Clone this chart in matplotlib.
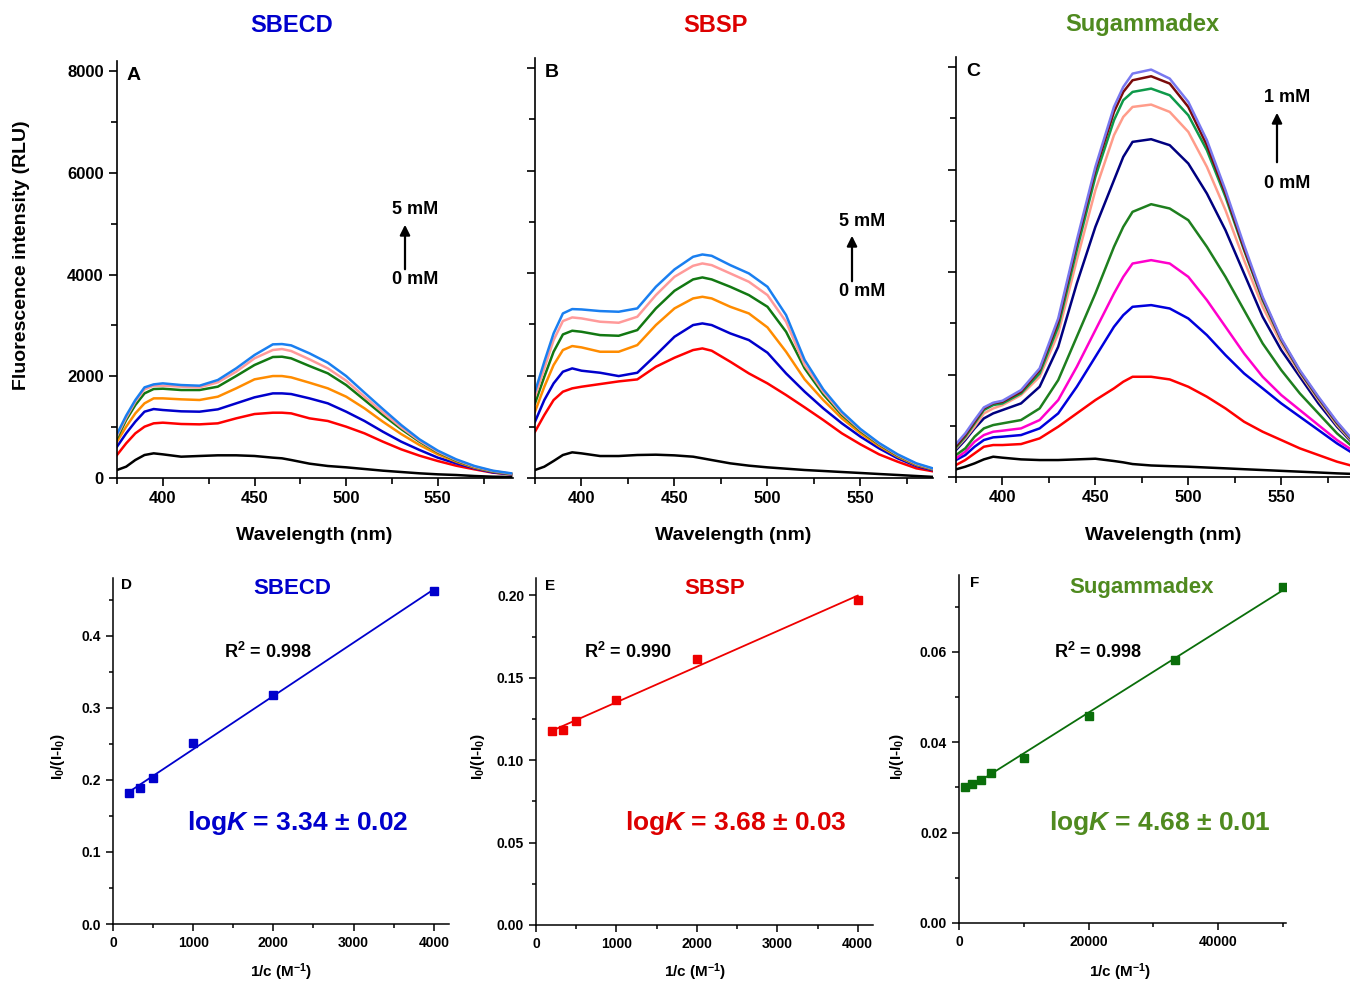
import numpy as np
import matplotlib
matplotlib.use("Agg")
import matplotlib.pyplot as plt
from matplotlib.ticker import MultipleLocator, FormatStrFormatter

plt.rcParams['font.family'] = ['Liberation Sans', 'DejaVu Sans']
plt.rcParams['font.weight'] = 'bold'
plt.rcParams['mathtext.fontset'] = 'custom'
plt.rcParams['mathtext.rm'] = 'Liberation Sans:bold'
plt.rcParams['mathtext.it'] = 'Liberation Sans:bold:italic'
plt.rcParams['mathtext.bf'] = 'Liberation Sans:bold'

# ---------------- data ----------------
WL = [375, 380, 385, 390, 395, 400, 410, 420, 430, 440, 450, 460, 465, 470,
      480, 490, 500, 510, 520, 530, 540, 550, 560, 570, 580, 590]

A_black = [157, 223, 354, 452, 485, 465, 419, 433, 446, 446, 433, 400, 387, 354, 282, 236, 210, 177, 144, 118, 92, 72, 59, 39, 26, 20]
A_red = [452, 682, 878, 1009, 1075, 1088, 1062, 1055, 1075, 1173, 1258, 1284, 1284, 1271, 1173, 1121, 1009, 878, 715, 564, 439, 334, 242, 170, 105, 72]
A_blue = [616, 878, 1108, 1304, 1356, 1337, 1311, 1304, 1350, 1468, 1586, 1664, 1664, 1651, 1566, 1468, 1304, 1121, 911, 715, 551, 400, 288, 190, 111, 72]
A_orange = [714, 1009, 1271, 1468, 1566, 1566, 1547, 1534, 1599, 1763, 1940, 2005, 2005, 1979, 1874, 1763, 1599, 1370, 1108, 865, 649, 465, 321, 203, 125, 79]
A_green = [780, 1140, 1435, 1664, 1750, 1756, 1730, 1730, 1796, 2005, 2222, 2379, 2385, 2353, 2202, 2058, 1828, 1534, 1239, 963, 714, 505, 341, 216, 131, 79]
A_pink = [826, 1186, 1501, 1743, 1815, 1815, 1796, 1782, 1881, 2090, 2353, 2517, 2536, 2497, 2333, 2156, 1914, 1599, 1291, 996, 734, 518, 354, 223, 138, 85]
A_lblue = [865, 1226, 1533, 1782, 1841, 1861, 1828, 1815, 1927, 2156, 2418, 2628, 2634, 2608, 2451, 2267, 2005, 1678, 1356, 1042, 760, 538, 367, 236, 144, 92]

B_black = [156, 221, 332, 449, 501, 481, 429, 429, 449, 455, 442, 416, 384, 351, 286, 241, 208, 182, 156, 137, 117, 98, 78, 59, 39, 20]
B_red = [904, 1229, 1522, 1685, 1750, 1782, 1834, 1886, 1925, 2172, 2348, 2498, 2530, 2485, 2270, 2042, 1847, 1620, 1379, 1132, 872, 657, 462, 318, 189, 124]
B_blue = [1099, 1522, 1847, 2075, 2140, 2095, 2055, 1990, 2055, 2400, 2758, 2986, 3018, 2986, 2823, 2693, 2446, 2042, 1685, 1360, 1067, 807, 579, 384, 234, 143]
B_orange = [1294, 1782, 2205, 2498, 2576, 2550, 2465, 2465, 2595, 2986, 3311, 3506, 3538, 3506, 3343, 3213, 2940, 2465, 1925, 1522, 1164, 872, 625, 417, 254, 156]
B_green = [1457, 1977, 2465, 2803, 2875, 2855, 2790, 2777, 2888, 3311, 3655, 3877, 3916, 3877, 3733, 3571, 3343, 2855, 2140, 1633, 1230, 917, 657, 436, 267, 163]
B_pink = [1587, 2140, 2693, 3064, 3135, 3116, 3051, 3031, 3148, 3571, 3929, 4143, 4189, 4156, 3994, 3831, 3571, 3051, 2205, 1685, 1262, 937, 670, 449, 274, 169]
B_lblue = [1685, 2270, 2823, 3213, 3298, 3291, 3259, 3246, 3311, 3733, 4072, 4319, 4364, 4338, 4156, 3994, 3733, 3181, 2303, 1730, 1294, 956, 683, 462, 287, 176]

C_black = [149, 201, 266, 344, 396, 377, 344, 331, 331, 344, 357, 312, 286, 253, 225, 212, 201, 185, 169, 152, 136, 120, 104, 88, 71, 58]
C_red = [234, 331, 461, 591, 624, 624, 643, 754, 982, 1242, 1502, 1730, 1860, 1957, 1957, 1905, 1762, 1567, 1339, 1079, 884, 722, 559, 429, 299, 200]
C_blue = [331, 429, 591, 722, 774, 787, 819, 949, 1242, 1762, 2347, 2933, 3160, 3323, 3356, 3290, 3095, 2770, 2380, 2022, 1730, 1437, 1177, 917, 656, 430]
C_magenta = [364, 494, 689, 819, 884, 904, 949, 1112, 1502, 2152, 2868, 3583, 3908, 4168, 4234, 4168, 3908, 3453, 2933, 2412, 1957, 1600, 1307, 1014, 722, 480]
C_green = [429, 559, 787, 949, 1014, 1047, 1112, 1339, 1892, 2738, 3583, 4494, 4884, 5177, 5326, 5242, 5014, 4494, 3908, 3258, 2608, 2087, 1632, 1242, 852, 540]
C_navy = [526, 722, 949, 1144, 1242, 1307, 1437, 1762, 2543, 3778, 4884, 5795, 6250, 6543, 6595, 6478, 6120, 5534, 4819, 3973, 3128, 2478, 1957, 1437, 982, 600]
C_salmon = [559, 754, 982, 1242, 1339, 1404, 1600, 1957, 2803, 4234, 5600, 6673, 7030, 7225, 7271, 7128, 6738, 6055, 5209, 4234, 3323, 2608, 2022, 1502, 1014, 620]
C_green2 = [579, 787, 1047, 1307, 1404, 1437, 1632, 2022, 2933, 4429, 5860, 6966, 7356, 7518, 7583, 7453, 7063, 6380, 5469, 4429, 3453, 2673, 2055, 1535, 1047, 640]
C_maroon = [605, 819, 1079, 1339, 1437, 1470, 1665, 2087, 3030, 4559, 5990, 7128, 7518, 7746, 7824, 7681, 7225, 6478, 5534, 4461, 3486, 2686, 2068, 1548, 1060, 650]
C_top = [644, 852, 1112, 1359, 1450, 1489, 1697, 2120, 3095, 4624, 6055, 7226, 7616, 7876, 7954, 7778, 7323, 6575, 5599, 4526, 3518, 2705, 2087, 1567, 1079, 660]

D_x = [200, 333, 500, 1000, 2000, 4000]
D_y = [0.182, 0.189, 0.203, 0.251, 0.318, 0.462]
E_x = [200, 333, 500, 1000, 2000, 4000]
E_y = [0.1174, 0.118, 0.124, 0.1362, 0.1616, 0.1974]
F_x = [1000, 2000, 3333, 5000, 10000, 20000, 33333, 50000]
F_y = [0.0302, 0.0307, 0.0317, 0.0332, 0.0366, 0.0457, 0.0581, 0.0744]

titles = ["SBECD", "SBSP", "Sugammadex"]
title_colors = ["#0000CC", "#DD0000", "#4F8A1F"]
r2_labels = ["R$^2$ = 0.998", "R$^2$ = 0.990", "R$^2$ = 0.998"]
logk_labels = ["log$K$ = 3.34 \u00b1 0.02", "log$K$ = 3.68 \u00b1 0.03", "log$K$ = 4.68 \u00b1 0.01"]
arrow_top = ["5 mM", "5 mM", "1 mM"]

W, H = 1350, 985
fig = plt.figure(figsize=(W / 100, H / 100), dpi=100)


def rect(l, t, r, b):
    return [l / W, 1 - b / H, (r - l) / W, (b - t) / H]


def P(x, y):
    return (x / W, 1 - y / H)


top_specs = [
    (rect(117, 61, 513, 478), (375, 591),
     [A_black, A_red, A_blue, A_orange, A_green, A_pink, A_lblue],
     ["black", "#FF0000", "#0000CC", "#FF8C00", "#127812", "#FF9A9A", "#1A7FF0"], "A"),
    (rect(535, 58, 933, 478), (375, 589),
     [B_black, B_red, B_blue, B_orange, B_green, B_pink, B_lblue],
     ["black", "#FF0000", "#0000CC", "#FF8C00", "#127812", "#FF9A9A", "#1A7FF0"], "B"),
    (rect(956, 57, 1350, 477), (375, 587),
     [C_black, C_red, C_blue, C_magenta, C_green, C_navy, C_salmon, C_green2, C_maroon, C_top],
     ["black", "#FF0000", "#0000DD", "#FF00CC", "#1E7F1E", "#000080", "#FF9C8A", "#0E9A4A", "#7A0A0A", "#7878F0"], "C"),
]

for spec in top_specs:
    r, xl, curves, cols, letter = spec
    ax = fig.add_axes(r)
    for yv, c in zip(curves, cols):
        ax.plot(WL, yv, color=c, lw=1.8)
    ax.set_xlim(*xl)
    ax.set_ylim(0, 8200)
    ax.spines['top'].set_visible(False)
    ax.spines['right'].set_visible(False)
    ax.spines['left'].set_linewidth(1.2)
    ax.spines['bottom'].set_linewidth(1.2)
    ax.xaxis.set_major_locator(MultipleLocator(50))
    ax.xaxis.set_minor_locator(MultipleLocator(25))
    ax.yaxis.set_major_locator(MultipleLocator(2000))
    ax.yaxis.set_minor_locator(MultipleLocator(1000))
    ax.tick_params(which='major', direction='out', length=6, width=1.2, labelsize=12)
    ax.tick_params(which='minor', direction='out', length=4, width=1.2)
    if letter != "A":
        ax.set_yticklabels([])
    ax.text(0.025, 0.985, letter, transform=ax.transAxes, fontsize=14,
            fontweight='bold', va='top', ha='left')

# top titles and labels
for (x, t, c) in zip([292, 715, 1142], titles, title_colors):
    fig.text(*P(x, 25), t, color=c, fontsize=17, fontweight='bold', ha='center', va='center')
for x in [314, 733, 1163]:
    fig.text(*P(x, 536), "Wavelength (nm)", fontsize=14, fontweight='bold', ha='center', va='center')
fig.text(*P(22, 255), "Fluorescence intensity (RLU)", fontsize=14, fontweight='bold',
         rotation=90, ha='center', va='center')

# concentration arrows
arrows = [(405, 272, 222, 415, 210, 280), (852, 284, 233, 862, 221, 291), (1277, 165, 110, 1287, 98, 183)]
for (ax_, y0, y1, tx, ty1, ty0), lab in zip(arrows, arrow_top):
    fig.add_artist(matplotlib.patches.FancyArrowPatch(
        P(ax_, y0), P(ax_, y1), transform=fig.transFigure,
        arrowstyle='-|>,head_length=6,head_width=3', color='black', lw=1.6))
    fig.text(*P(tx, ty1), lab, fontsize=13, fontweight='bold', ha='center', va='center')
    fig.text(*P(tx, ty0), "0 mM", fontsize=13, fontweight='bold', ha='center', va='center')

# bottom panels
bot_specs = [
    (rect(113, 578, 449, 924), D_x, D_y, (0, 4190), (0, 0.48), 1000, 500, 0.1, 0.05, "%.1f", "#0000CC", "D",
     (127, 585), 292, 268, 298, 281, 58),
    (rect(536, 578, 873, 925), E_x, E_y, (0, 4190), (0, 0.2105), 1000, 500, 0.05, 0.025, "%.2f", "#EE0000", "E",
     (550, 586), 715, 628, 736, 695, 478),
    (rect(959, 575, 1286, 923), F_x, F_y, (0, 50500), (0, 0.077), 20000, 10000, 0.02, 0.01, "%.2f", "#0A6E0A", "F",
     (975, 583), 1142, 1098, 1160, 1120, 897),
]

for i, spec in enumerate(bot_specs):
    (r, xs, ys, xl, yl, xmaj, xmin, ymaj, ymin, yfmt, col, letter,
     lpos, tx, r2x, lkx, xlabx, ylabx) = spec
    ax = fig.add_axes(r)
    xs = np.array(xs, dtype=float)
    ys = np.array(ys, dtype=float)
    k, b = np.polyfit(xs, ys, 1)
    xx = np.array([xs.min(), xs.max()])
    ax.plot(xx, k * xx + b, color=col, lw=1.3)
    ax.plot(xs, ys, 's', color=col, ms=6, mec=col)
    ax.set_xlim(*xl)
    ax.set_ylim(*yl)
    ax.spines['top'].set_visible(False)
    ax.spines['right'].set_visible(False)
    ax.spines['left'].set_linewidth(1.1)
    ax.spines['bottom'].set_linewidth(1.1)
    ax.xaxis.set_major_locator(MultipleLocator(xmaj))
    ax.xaxis.set_minor_locator(MultipleLocator(xmin))
    ax.yaxis.set_major_locator(MultipleLocator(ymaj))
    ax.yaxis.set_minor_locator(MultipleLocator(ymin))
    ax.yaxis.set_major_formatter(FormatStrFormatter(yfmt))
    ax.tick_params(which='major', direction='out', length=5, width=1.1, labelsize=10)
    ax.tick_params(which='minor', direction='out', length=3, width=1.1)
    fig.text(*P(*lpos), letter, fontsize=11, fontweight='bold', ha='center', va='center')
    fig.text(*P(tx, 588), titles[i], color=title_colors[i], fontsize=16, fontweight='bold',
             ha='center', va='center')
    fig.text(*P(r2x, 652), r2_labels[i], fontsize=13, fontweight='bold', ha='center', va='center')
    fig.text(*P(lkx, 823), logk_labels[i], color=title_colors[i], fontsize=19, fontweight='bold',
             ha='center', va='center')
    fig.text(*P(xlabx, 972), "1/c (M$^{-1}$)", fontsize=11, fontweight='bold', ha='center', va='center')
    fig.text(*P(ylabx, 757), "I$_0$/(I-I$_0$)", fontsize=11, fontweight='bold', rotation=90,
             ha='center', va='center')

fig.savefig("out.png", dpi=100)
